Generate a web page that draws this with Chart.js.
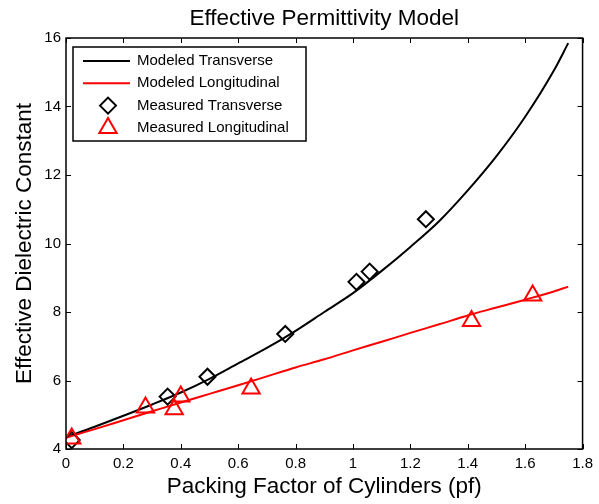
<!DOCTYPE html>
<html>
<head>
<meta charset="utf-8">
<title>Effective Permittivity Model</title>
<script src="https://cdn.jsdelivr.net/npm/chart.js@4.4.1/dist/chart.umd.min.js"></script>
<style>
  html, body { margin: 0; padding: 0; background: #fff; }
  #wrap { width: 599px; height: 504px; }
</style>
</head>
<body>
<div id="wrap"><canvas id="grafico" width="599" height="504"></canvas></div>
<script>
// Curvas del modelo
const modelPf = [0, 0.1, 0.2, 0.3, 0.4, 0.5, 0.6, 0.7, 0.8, 0.9, 1.0, 1.1, 1.2, 1.3, 1.4, 1.5, 1.6, 1.7, 1.75];
const modelTransverse = [4.35, 4.65, 4.97, 5.3, 5.65, 6.05, 6.5, 6.95, 7.45, 8.0, 8.55, 9.2, 9.9, 10.65, 11.55, 12.55, 13.7, 15.05, 15.85];
const modelLongitudinal = [4.33, 4.58, 4.84, 5.1, 5.36, 5.61, 5.86, 6.12, 6.38, 6.62, 6.88, 7.13, 7.39, 7.64, 7.9, 8.13, 8.36, 8.6, 8.74];

// Mediciones
const measTransPf = [0.02, 0.354, 0.493, 0.764, 1.012, 1.058, 1.254];
const measTransEps = [4.26, 5.53, 6.11, 7.36, 8.88, 9.18, 10.71];
const measLongPf = [0.02, 0.277, 0.377, 0.40, 0.645, 1.413, 1.626];
const measLongEps = [4.31, 5.21, 5.16, 5.53, 5.77, 7.74, 8.48];

// Marcas de los ejes
const xTicks = [0, 0.2, 0.4, 0.6, 0.8, 1, 1.2, 1.4, 1.6, 1.8];
const yTicks = [4, 6, 8, 10, 12, 14, 16];

function toPoints(xs, ys) {
    return xs.map((x, i) => ({ x: x, y: ys[i] }));
}

Chart.defaults.font.family = '"Liberation Sans", Arial, Helvetica, sans-serif';
Chart.defaults.color = '#000';

// Marco tipo MATLAB con marcas hacia adentro en los cuatro lados
const marcoEjes = {
    id: 'marcoEjes',
    afterDraw(chart) {
        const { ctx, chartArea: a, scales } = chart;
        const len = 5;
        ctx.save();
        ctx.strokeStyle = '#000';
        ctx.lineWidth = 1;
        ctx.beginPath();
        scales.x.ticks.forEach(t => {
            const px = Math.round(scales.x.getPixelForValue(t.value)) + 0.5;
            ctx.moveTo(px, a.bottom); ctx.lineTo(px, a.bottom - len);
            ctx.moveTo(px, a.top); ctx.lineTo(px, a.top + len);
        });
        scales.y.ticks.forEach(t => {
            const py = Math.round(scales.y.getPixelForValue(t.value)) + 0.5;
            ctx.moveTo(a.left, py); ctx.lineTo(a.left + len, py);
            ctx.moveTo(a.right, py); ctx.lineTo(a.right - len, py);
        });
        ctx.stroke();
        ctx.lineWidth = 1.5;
        ctx.strokeRect(a.left, a.top, a.right - a.left, a.bottom - a.top);
        ctx.restore();
    }
};

// Leyenda dentro del area del grafico (esquina superior izquierda)
const leyendaInterna = {
    id: 'leyendaInterna',
    afterDraw(chart) {
        const { ctx, chartArea: a } = chart;
        const box = { x: a.left + 7, y: a.top + 9, w: 233, h: 94 };
        const rowGap = 22.3;
        ctx.save();
        ctx.fillStyle = '#fff';
        ctx.fillRect(box.x, box.y, box.w, box.h);
        ctx.strokeStyle = '#000';
        ctx.lineWidth = 1.5;
        ctx.strokeRect(box.x, box.y, box.w, box.h);
        ctx.font = '15px "Liberation Sans", Arial, Helvetica, sans-serif';
        ctx.textBaseline = 'middle';
        chart.data.datasets.forEach((ds, i) => {
            const y = box.y + 14 + i * rowGap;
            if (ds.showLine) {
                ctx.strokeStyle = ds.borderColor;
                ctx.lineWidth = 2;
                ctx.beginPath();
                ctx.moveTo(box.x + 10, y);
                ctx.lineTo(box.x + 57, y);
                ctx.stroke();
            } else {
                ctx.strokeStyle = ds.borderColor;
                ctx.fillStyle = 'rgba(0,0,0,0)';
                ctx.lineWidth = ds.borderWidth;
                Chart.helpers.drawPoint(ctx, {
                    pointStyle: ds.pointStyle,
                    radius: ds.pointRadius,
                    borderWidth: ds.borderWidth,
                    rotation: 0
                }, box.x + 35, y);
            }
            ctx.fillStyle = '#000';
            ctx.fillText(ds.label, box.x + 64, y);
        });
        ctx.restore();
    }
};

const ctx = document.getElementById('grafico').getContext('2d');
new Chart(ctx, {
    type: 'scatter',
    data: {
        datasets: [
            {
                label: 'Modeled Transverse',
                data: toPoints(modelPf, modelTransverse),
                showLine: true,
                borderColor: '#000000',
                borderWidth: 2,
                pointRadius: 0,
                cubicInterpolationMode: 'monotone',
                order: 4
            },
            {
                label: 'Modeled Longitudinal',
                data: toPoints(modelPf, modelLongitudinal),
                showLine: true,
                borderColor: '#ff0000',
                borderWidth: 2,
                pointRadius: 0,
                cubicInterpolationMode: 'monotone',
                order: 3
            },
            {
                label: 'Measured Transverse',
                data: toPoints(measTransPf, measTransEps),
                showLine: false,
                pointStyle: 'rectRot',
                pointRadius: 8,
                borderColor: '#000000',
                backgroundColor: 'rgba(0,0,0,0)',
                borderWidth: 2,
                order: 2
            },
            {
                label: 'Measured Longitudinal',
                data: toPoints(measLongPf, measLongEps),
                showLine: false,
                pointStyle: 'triangle',
                pointRadius: 10,
                borderColor: '#ff0000',
                backgroundColor: 'rgba(0,0,0,0)',
                borderWidth: 2,
                order: 1
            }
        ]
    },
    options: {
        responsive: false,
        animation: false,
        devicePixelRatio: 1,
        events: [],
        layout: { padding: { left: 0, right: 13, top: 0, bottom: 0 } },
        plugins: {
            legend: { display: false },
            tooltip: { enabled: false },
            title: {
                display: true,
                text: 'Effective Permittivity Model',
                fullSize: false,
                color: '#000',
                font: { size: 22.5, weight: 'normal' },
                padding: { top: 5.1, bottom: 5.9 }
            }
        },
        scales: {
            x: {
                type: 'linear',
                min: 0,
                max: 1.8,
                afterBuildTicks: s => { s.ticks = xTicks.map(v => ({ value: v })); },
                afterFit: s => { s.height = 55; },
                grid: { display: false, drawTicks: false },
                border: { display: false },
                ticks: {
                    color: '#000',
                    font: { size: 15 },
                    padding: 6,
                    maxRotation: 0,
                    autoSkip: false,
                    callback: value => String(value)
                },
                title: {
                    display: true,
                    text: 'Packing Factor of Cylinders (pf)',
                    color: '#000',
                    font: { size: 22.5 },
                    padding: { top: 0, bottom: 4 }
                }
            },
            y: {
                type: 'linear',
                min: 4,
                max: 16,
                afterBuildTicks: s => { s.ticks = yTicks.map(v => ({ value: v })); },
                afterFit: s => { s.width = 66; },
                grid: { display: false, drawTicks: false },
                border: { display: false },
                ticks: {
                    color: '#000',
                    font: { size: 15 },
                    padding: 5,
                    autoSkip: false,
                    callback: value => String(value)
                },
                title: {
                    display: true,
                    text: 'Effective Dielectric Constant',
                    color: '#000',
                    font: { size: 22.5 },
                    padding: { top: 11, bottom: 0 }
                }
            }
        }
    },
    plugins: [marcoEjes, leyendaInterna]
});
</script>
</body>
</html>
